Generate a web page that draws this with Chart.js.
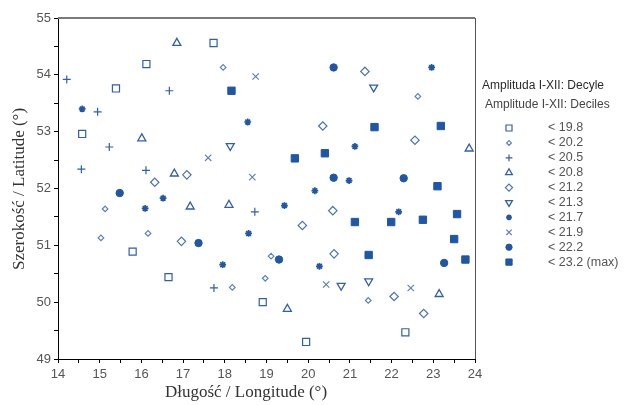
<!DOCTYPE html>
<html lang="pl">
<head>
<meta charset="UTF-8">
<title>Amplituda I-XII: Decyle</title>
<script src="https://cdn.jsdelivr.net/npm/chart.js@4.4.0/dist/chart.umd.min.js"></script>
<style>
  html, body { margin: 0; padding: 0; background: #fff; }
</style>
</head>
<body>
<canvas id="mapa" width="625" height="405"></canvas>
<script>
// progi decyli (legenda)
const progi = ['< 19.8', '< 20.2', '< 20.5', '< 20.8', '< 21.2', '< 21.3', '< 21.7', '< 21.9', '< 22.2', '< 23.2 (max)'];

// stacje: [dlugosc, szerokosc]
const d198 = [[17.73, 54.56], [16.12, 54.19], [15.39, 53.76], [14.58, 52.96], [15.79, 50.89], [16.65, 50.44], [18.91, 50.00], [22.33, 49.47], [19.95, 49.30]];
const d202 = [[17.96, 54.13], [22.63, 53.62], [15.13, 51.64], [15.03, 51.13], [16.16, 51.21], [18.18, 50.26], [19.11, 50.81], [18.97, 50.42], [21.44, 50.03]];
const d205 = [[14.21, 53.92], [16.67, 53.72], [14.95, 53.35], [15.23, 52.73], [14.56, 52.34], [16.11, 52.32], [18.72, 51.59], [17.74, 50.25]];
const d208 = [[16.85, 54.56], [16.01, 52.88], [16.79, 52.26], [23.86, 52.70], [17.17, 51.68], [18.10, 51.71], [23.14, 50.14], [19.50, 49.88]];
const d212 = [[21.36, 54.06], [20.35, 53.10], [22.56, 52.85], [17.09, 52.24], [16.32, 52.11], [16.96, 51.07], [20.59, 51.61], [19.86, 51.35], [20.62, 50.85], [22.06, 50.10], [22.77, 49.80]];
const d213 = [[21.57, 53.78], [18.13, 52.75], [20.79, 50.29], [21.45, 50.37]];
const d217 = [[14.58, 53.40], [18.55, 53.17], [22.96, 54.13], [21.12, 52.74], [20.98, 52.14], [20.16, 51.96], [16.09, 51.65], [16.52, 51.83], [18.57, 51.21], [17.95, 50.66], [19.43, 51.70], [22.17, 51.59], [20.27, 50.63]];
const d219 = [[18.74, 53.97], [17.60, 52.54], [18.66, 52.20], [20.43, 50.31], [22.46, 50.25]];
const d222 = [[20.61, 54.13], [20.61, 52.19], [22.29, 52.18], [15.48, 51.92], [17.37, 51.04], [19.30, 50.75], [23.26, 50.69]];
const d232 = [[18.16, 53.72], [21.59, 53.08], [23.18, 53.10], [20.40, 52.62], [19.68, 52.53], [23.10, 52.04], [23.57, 51.55], [21.12, 51.41], [21.99, 51.41], [22.75, 51.45], [23.50, 51.11], [21.45, 50.83], [23.77, 50.75]];

const grupy = [d198, d202, d205, d208, d212, d213, d217, d219, d222, d232];

// wyglad znacznikow
const style = [
    { pointStyle: 'rect', radius: 5, color: '#2f5fb0', fill: false, bw: 1.2 },
    { pointStyle: 'rectRot', radius: 2.8, color: '#5b80c8', fill: false, bw: 1.2 },
    { pointStyle: 'cross', radius: 4, color: '#2f5fb0', fill: false, bw: 1.2 },
    { pointStyle: 'triangle', radius: 4.6, color: '#2f5fb0', fill: false, bw: 1.3 },
    { pointStyle: 'rectRot', radius: 4.2, color: '#4a72bd', fill: false, bw: 1.2 },
    { pointStyle: 'triangle', radius: 4.6, rotation: 180, color: '#2f5fb0', fill: false, bw: 1.3 },
    { pointStyle: 'star', radius: 3.4, color: '#2257a8', fill: true, bw: 1.7 },
    { pointStyle: 'crossRot', radius: 4.5, color: '#5a7cc0', fill: false, bw: 1.1 },
    { pointStyle: 'circle', radius: 3.7, color: '#1f56a6', fill: true, bw: 1 },
    { pointStyle: 'rect', radius: 5.2, color: '#1f56a6', fill: true, bw: 1 }
];

const datasets = grupy.map((g, i) => ({
    label: progi[i],
    data: g.map(p => ({ x: p[0], y: p[1] })),
    pointStyle: style[i].pointStyle,
    pointRadius: style[i].radius,
    pointRotation: style[i].rotation || 0,
    borderColor: style[i].color,
    backgroundColor: style[i].fill ? style[i].color : 'rgba(0,0,0,0)',
    pointBorderWidth: style[i].bw,
    clip: false
}));

const ramka = {
    id: 'ramka',
    beforeDatasetsDraw(chart) {
        const a = chart.chartArea;
        const ctx = chart.ctx;
        ctx.save();
        ctx.strokeStyle = '#7a7a7a';
        ctx.lineWidth = 2;
        ctx.beginPath();
        ctx.moveTo(a.left, a.top);
        ctx.lineTo(a.right, a.top);
        ctx.stroke();
        ctx.strokeStyle = '#555';
        ctx.lineWidth = 1;
        ctx.beginPath();
        ctx.moveTo(a.right + 0.5, a.top);
        ctx.lineTo(a.right + 0.5, a.bottom);
        ctx.stroke();
        ctx.restore();
    },
    afterDraw(chart) {
        const ctx = chart.ctx;
        ctx.save();
        // tytuly osi
        ctx.fillStyle = '#333';
        ctx.font = '17px "Liberation Serif"';
        ctx.textAlign = 'center';
        ctx.textBaseline = 'middle';
        ctx.fillText('Długość / Longitude (°)', 246, 393);
        ctx.translate(20, 189);
        ctx.rotate(-Math.PI / 2);
        ctx.fillText('Szerokość / Latitude (°)', 0, 0);
        ctx.restore();

        // legenda
        ctx.save();
        ctx.textAlign = 'left';
        ctx.textBaseline = 'middle';
        ctx.fillStyle = '#2a2a2a';
        ctx.font = '12px "Liberation Sans"';
        ctx.fillText('Amplituda I-XII: Decyle', 482, 86);
        ctx.fillStyle = '#444';
        ctx.fillText('Amplitude I-XII: Deciles', 485, 105);
        progi.forEach((t, i) => {
            const y = 128 + i * 14.9;
            const s = style[i];
            ctx.strokeStyle = s.color;
            ctx.fillStyle = s.fill ? s.color : 'rgba(0,0,0,0)';
            ctx.lineWidth = s.bw;
            Chart.helpers.drawPoint(ctx, {
                pointStyle: s.pointStyle,
                radius: s.radius * 0.85,
                rotation: s.rotation || 0,
                borderWidth: s.bw
            }, 509, y);
            ctx.fillStyle = '#555';
            ctx.font = '12.5px "Liberation Sans"';
            ctx.fillText(t, 548, y);
        });
        ctx.restore();
    }
};

const osX = {
    type: 'linear',
    min: 14,
    max: 24,
    afterFit(scale) { scale.height = 46; },
    ticks: {
        stepSize: 0.5,
        autoSkip: false,
        maxRotation: 0,
        padding: 4,
        color: '#555',
        font: { family: 'Liberation Sans', size: 13 },
        callback: v => Number.isInteger(v) ? v : ''
    },
    grid: { drawOnChartArea: false, tickLength: 4, tickColor: '#000' },
    border: { color: '#000', width: 1 }
};

const osY = {
    type: 'linear',
    min: 49,
    max: 55,
    afterFit(scale) { scale.width = 58; },
    ticks: {
        stepSize: 0.5,
        autoSkip: false,
        padding: 3,
        color: '#555',
        font: { family: 'Liberation Sans', size: 13 },
        callback: v => Number.isInteger(v) ? v : ''
    },
    grid: { drawOnChartArea: false, tickLength: 4, tickColor: '#000' },
    border: { color: '#000', width: 1 }
};

new Chart(document.getElementById('mapa').getContext('2d'), {
    type: 'scatter',
    data: { datasets: datasets },
    options: {
        responsive: false,
        animation: false,
        devicePixelRatio: 1,
        layout: { padding: { top: 18, right: 150, bottom: 0, left: 0 } },
        plugins: { legend: { display: false }, tooltip: { enabled: false } },
        scales: { x: osX, y: osY }
    },
    plugins: [ramka]
});
</script>
</body>
</html>
